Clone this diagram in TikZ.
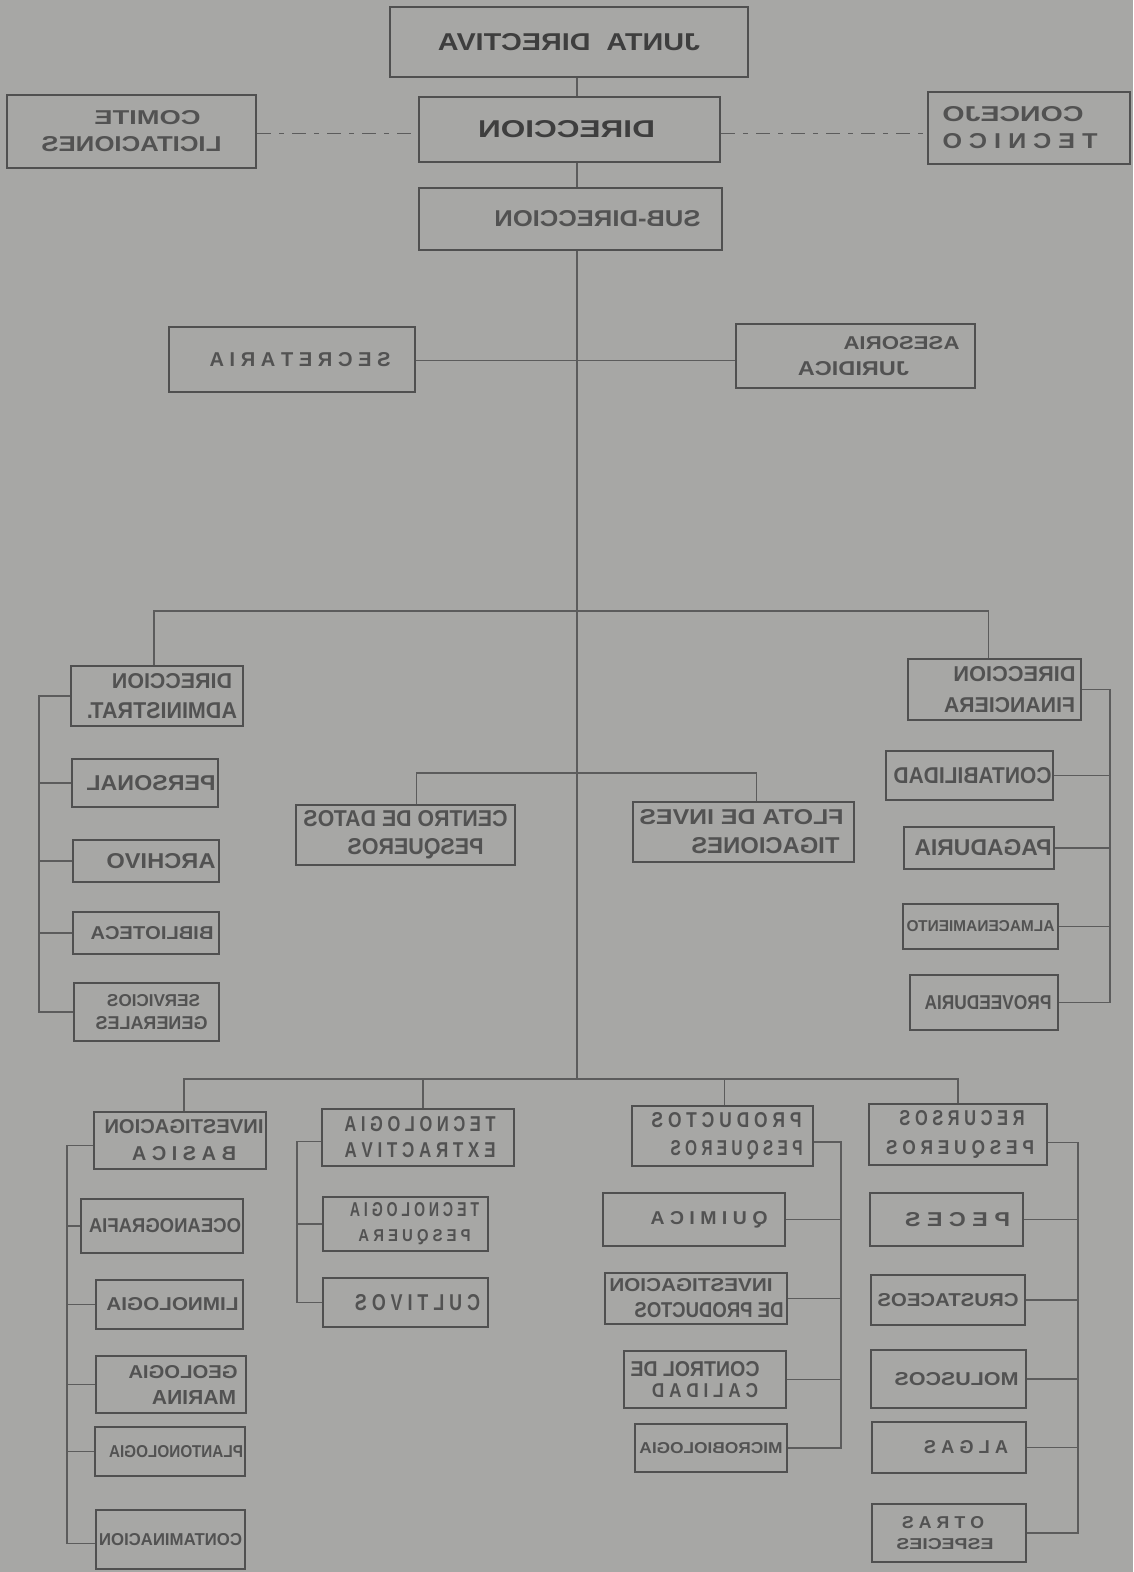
\documentclass[tikz,border=0pt]{standalone}
\usepackage{fontspec}
\setmainfont{Liberation Sans}
\usepackage{graphicx}
\definecolor{bg}{RGB}{167,167,165}
\definecolor{ink}{RGB}{80,80,80}
\definecolor{wire}{RGB}{92,92,92}
\definecolor{txt}{RGB}{82,82,82}
\definecolor{txtdark}{RGB}{62,62,62}
% mirrored, sized line of text: [x shift]{width}{cap height}{text}
\newcommand\ml[4][0]{\ifdim #1pt>0pt\hspace*{#1pt}\hspace*{#1pt}\fi\reflectbox{\resizebox{#2pt}{#3pt}{#4}}\ifdim #1pt<0pt\hspace*{-#1pt}\hspace*{-#1pt}\fi}
\begin{document}
\begin{tikzpicture}[x=1pt,y=-1pt,
  box/.style={draw=ink,line width=2.2pt,inner sep=0pt,align=center,text=txt,font=\fontsize{10}{#1}\selectfont\bfseries},
  box/.default=27pt,
  wire/.style={draw=wire,line width=1.1pt},
  dwire/.style={draw=wire,line width=1.1pt,dash pattern=on 14pt off 8pt on 5pt off 8pt}]
\fill[bg] (0,0) rectangle (1133,1572);
\useasboundingbox (0,0) rectangle (1133,1572);
% ---- top
\node[box,text=txtdark,minimum width=358pt,minimum height=70pt] (jd) at (569,42) {\ml{262}{17}{JUNTA~~DIRECTIVA}};
\node[box,text=txtdark,minimum width=301pt,minimum height=65pt] (dir) at (569.5,129.5) {\ml[-3]{177}{17}{DIRECCION}};
\node[box,minimum width=303pt,minimum height=62pt] (sub) at (570.5,219) {\ml[27]{206}{16}{SUB-DIRECCION}};
\node[box,minimum width=249pt,minimum height=73pt] (com) at (131.5,131.5) {\ml[16]{106}{14}{COMITE}\\\ml{180}{15}{LICITACIONES}};
\node[box,minimum width=202pt,minimum height=72pt] (con) at (1029,128) {\ml[-16]{141}{15}{CONCEJO}\\\ml[-9]{155}{15}{T E C N I C O}};
\node[box,minimum width=246pt,minimum height=65pt] (sec) at (292,359.5) {\ml[8]{181}{14}{S E C R E T A R I A}};
\node[box=26pt,minimum width=239pt,minimum height=64pt] (ase) at (855.5,356) {\ml[46]{116}{13}{ASESORIA}\\\ml[-2]{111}{14}{JURIDICA}};
% ---- administrative
\node[box=30pt,minimum width=172pt,minimum height=60pt] (adm) at (157,696) {\ml[15]{120}{15}{DIRECCION}\\\ml[5]{150}{16}{ADMINISTRAT.}};
\node[box,minimum width=146pt,minimum height=48pt] (per) at (145,783) {\ml[6]{129}{15}{PERSONAL}};
\node[box,minimum width=146pt,minimum height=42pt] (arc) at (146,861) {\ml[15]{109}{15}{ARCHIVO}};
\node[box,minimum width=146pt,minimum height=42pt] (bib) at (146,933) {\ml[6]{123}{13}{BIBLIOTECA}};
\node[box=23pt,minimum width=145pt,minimum height=58pt] (ser) at (146.5,1012) {\ml[7]{93}{12}{SERVICIOS}\\\ml[5]{112}{13}{GENERALES}};
% ---- centre
\node[box=28pt,minimum width=219pt,minimum height=60pt] (cdp) at (405.5,835) {\ml{204}{16}{CENTRO DE DATOS}\\\ml[10]{136}{16}{PESQUEROS}};
\node[box=29pt,minimum width=221pt,minimum height=60pt] (flo) at (743.5,832) {\ml[-2]{204}{15}{FLOTA DE INVES}\\\ml[22]{148}{16}{TIGACIONES}};
% ---- financial
\node[box=31pt,minimum width=173pt,minimum height=61pt] (fin) at (994.5,689.5) {\ml[20]{122}{15}{DIRECCION}\\\ml[15]{131}{15}{FINANCIERA}};
\node[box,minimum width=167pt,minimum height=49pt] (cta) at (969.5,775.5) {\ml[3]{158}{16}{CONTABILIDAD}};
\node[box,minimum width=150pt,minimum height=42pt] (pag) at (979,848) {\ml[4]{137}{16}{PAGADURIA}};
\node[box,minimum width=155pt,minimum height=45pt] (alm) at (980.5,926.5) {\ml{148}{11}{ALMACENAMIENTO}};
\node[box,minimum width=148pt,minimum height=55pt] (pro) at (984,1002.5) {\ml[4]{127}{14}{PROVEEDURIA}};
% ---- investigacion basica
\node[box,minimum width=172pt,minimum height=57pt] (inv) at (180,1140.5) {\ml[4]{159}{14}{INVESTIGACION}\\\ml[4]{104}{14}{B A S I C A}};
\node[box,minimum width=162pt,minimum height=54pt] (oce) at (162,1226) {\ml[3]{152}{14}{OCEANOGRAFIA}};
\node[box,minimum width=147pt,minimum height=49pt] (lim) at (169.5,1304.5) {\ml[3]{132}{13}{LIMNOLOGIA}};
\node[box=26pt,minimum width=150pt,minimum height=57pt] (geo) at (171,1384.5) {\ml[12]{109}{13}{GEOLOGIA}\\\ml[23]{84}{14}{MARINA}};
\node[box,minimum width=150pt,minimum height=49pt] (pla) at (170,1451.5) {\ml[6]{134}{12}{PLANTONOLOGIA}};
\node[box,minimum width=149pt,minimum height=59pt] (cnt) at (170.5,1539.5) {\ml{143}{12}{CONTAMINACION}};
% ---- tecnologia extractiva
\node[box=26pt,minimum width=192pt,minimum height=57pt] (tex) at (418,1137.5) {\ml[2]{151}{15}{T E C N O L O G I A}\\\ml[2]{151}{15}{E X T R A C T I V A}};
\node[box=25pt,minimum width=165pt,minimum height=54pt] (tpe) at (405.5,1224) {\ml[9]{129}{14}{T E C N O L O G I A}\\\ml[9]{112}{12}{P E S Q U E R A}};
\node[box,minimum width=165pt,minimum height=49pt] (cul) at (405.5,1302.5) {\ml[12]{125}{16}{C U L T I V O S}};
% ---- productos pesqueros
\node[box=28pt,minimum width=181pt,minimum height=60pt] (prd) at (722.5,1136) {\ml[4]{150}{15}{P R O D U C T O S}\\\ml[14]{132}{15}{P E S Q U E R O S}};
\node[box,minimum width=182pt,minimum height=53pt] (qui) at (694,1219.5) {\ml[15]{117}{13}{Q U I M I C A}};
\node[box=26pt,minimum width=182pt,minimum height=51pt] (ipr) at (696,1298.5) {\ml[-5]{163}{13}{INVESTIGACION}\\\ml[13]{149}{15}{DE PRODUCTOS}};
\node[box=21pt,minimum width=162pt,minimum height=57pt] (cca) at (705,1379.5) {\ml[-10]{129}{15}{CONTROL DE}\\\ml{106}{14}{C A L I D A D}};
\node[box,minimum width=152pt,minimum height=48pt] (mic) at (711,1448) {\ml{143}{11}{MICROBIOLOGIA}};
% ---- recursos pesqueros
\node[box=29pt,minimum width=178pt,minimum height=61pt] (rec) at (958,1134.5) {\ml[4]{125}{15}{R E C U R S O S}\\\ml[2]{148}{14}{P E S Q U E R O S}};
\node[box,minimum width=153pt,minimum height=53pt] (pec) at (946.5,1219.5) {\ml[11]{105}{14}{P E C E S}};
\node[box,minimum width=154pt,minimum height=50pt] (cru) at (948,1300) {\ml{141}{13}{CRUSTACEOS}};
\node[box,minimum width=155pt,minimum height=58pt] (mol) at (948.5,1379) {\ml[8]{124}{13}{MOLUSCOS}};
\node[box,minimum width=154pt,minimum height=51pt] (alg) at (949,1447.5) {\ml[17]{84}{13}{A L G A S}};
\node[box=21pt,minimum width=154pt,minimum height=58pt] (otr) at (949,1533) {\ml[-6]{82}{12}{O T R A S}\\\ml[-4]{97}{11}{ESPECIES}};
% ---- helper coordinates
\coordinate (sp) at (577,0);
\coordinate (h1) at (0,611);
\coordinate (h2) at (0,773);
\coordinate (h3) at (0,1079);
\coordinate (lb) at (39,0);
\coordinate (rb) at (1110,0);
\coordinate (ib) at (67,0);
\coordinate (tb) at (297,0);
\coordinate (pb) at (841,0);
\coordinate (qb) at (1078,0);
% ---- connectors
\draw[wire] (jd.south -| sp) -- (dir.north -| sp);
\draw[wire] (dir.south -| sp) -- (sub.north -| sp);
\draw[dwire] ([yshift=-2pt]com.east) -- ([yshift=-2pt]com.east -| dir.west);
\draw[dwire] ([yshift=-4pt]dir.east) -- ([yshift=-4pt]dir.east -| con.west);
\draw[wire] (sub.south -| sp) -- (sp |- h3);
\draw[wire] ([yshift=-1pt]sec.east) -- ([yshift=-1pt]sec.east -| ase.west);
\draw[wire] ([xshift=-3pt]adm.north) -- ([xshift=-3pt]adm.north |- h1) -- ([xshift=-6pt]fin.north |- h1) -- ([xshift=-6pt]fin.north);
\draw[wire] ([xshift=11pt]cdp.north) -- ([xshift=11pt]cdp.north |- h2) -- ([xshift=13pt]flo.north |- h2) -- ([xshift=13pt]flo.north);
\draw[wire] ([xshift=4pt]inv.north) -- ([xshift=4pt]inv.north |- h3) -- (rec.north |- h3) -- (rec.north);
\draw[wire] ([xshift=5pt]tex.north) -- ([xshift=5pt]tex.north |- h3);
\draw[wire] ([xshift=2pt]prd.north) -- ([xshift=2pt]prd.north |- h3);
% administrative bracket
\draw[wire] (adm.west) -- (adm.west -| lb) -- (ser.west -| lb) -- (ser.west);
\foreach \n in {per,arc,bib} \draw[wire] (\n.west) -- (\n.west -| lb);
% financial bracket
\draw[wire] (fin.east) -- (fin.east -| rb) -- (pro.east -| rb) -- (pro.east);
\foreach \n in {cta,pag,alm} \draw[wire] (\n.east) -- (\n.east -| rb);
% investigacion basica bracket
\draw[wire] ([yshift=-5pt]inv.west) -- ([yshift=-5pt]inv.west -| ib) -- ([yshift=-4pt]cnt.west -| ib) -- ([yshift=-4pt]cnt.west);
\foreach \n in {oce,lim,geo,pla} \draw[wire] (\n.west) -- (\n.west -| ib);
% tecnologia extractiva bracket
\draw[wire] ([yshift=-4pt]tex.west) -- ([yshift=-4pt]tex.west -| tb) -- (cul.west -| tb) -- (cul.west);
\draw[wire] (tpe.west) -- (tpe.west -| tb);
% productos bracket
\draw[wire] ([yshift=-6pt]prd.east) -- ([yshift=-6pt]prd.east -| pb) -- (mic.east -| pb) -- (mic.east);
\foreach \n in {qui,ipr,cca} \draw[wire] (\n.east) -- (\n.east -| pb);
% recursos bracket
\draw[wire] ([yshift=-8pt]rec.east) -- ([yshift=-8pt]rec.east -| qb) -- (otr.east -| qb) -- (otr.east);
\foreach \n in {pec,cru,mol,alg} \draw[wire] (\n.east) -- (\n.east -| qb);
\end{tikzpicture}
\end{document}
